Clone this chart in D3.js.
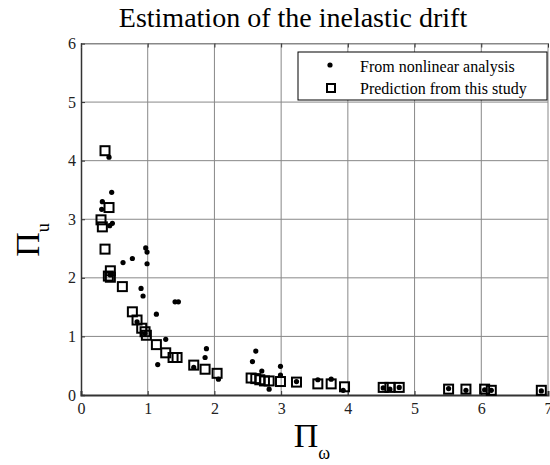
<!DOCTYPE html>
<html lang="en">
<head>
    <meta charset="UTF-8">
    <title>Estimation of the inelastic drift</title>
    <style>
        body {
            margin: 0;
            padding: 0;
            background-color: white;
        }
        svg {
            font-family: "Liberation Serif", "Times New Roman", serif;
        }
        .grid line {
            stroke: #888;
            stroke-width: 1;
        }
        .tick text {
            font-size: 16px;
            fill: #222;
        }
    </style>
    <script src="https://d3js.org/d3.v7.min.js"></script>
</head>
<body>
    <div id="chart"></div>

    <script>
        // Data
        const nonlinearX = [0.42, 0.46, 0.32, 0.31, 0.47, 0.43, 0.44, 0.63, 0.77, 0.97, 0.99, 0.99,
            0.90, 0.93, 0.84, 0.96, 1.13, 1.27, 1.15, 1.41, 1.46, 1.69, 1.86, 1.88, 2.06,
            2.57, 2.62, 2.71, 2.82, 2.99, 2.99, 3.23, 3.55, 3.75, 3.93, 4.53, 4.63, 4.77,
            5.51, 5.77, 6.05, 6.15, 6.90];
        const nonlinearY = [4.06, 3.46, 3.30, 3.17, 2.93, 2.89, 2.05, 2.26, 2.33, 2.51, 2.44, 2.24,
            1.82, 1.69, 1.25, 1.05, 1.38, 0.95, 0.52, 1.59, 1.59, 0.47, 0.64, 0.79, 0.27,
            0.57, 0.75, 0.41, 0.10, 0.49, 0.34, 0.23, 0.26, 0.27, 0.08, 0.12, 0.10, 0.13,
            0.11, 0.08, 0.09, 0.08, 0.07];

        const predX = [0.36, 0.42, 0.30, 0.32, 0.36, 0.44, 0.41, 0.44, 0.62, 0.77, 0.84, 0.91,
            0.96, 0.98, 1.13, 1.27, 1.38, 1.44, 1.69, 1.86, 2.04, 2.55, 2.62, 2.68, 2.75,
            2.82, 2.99, 3.23, 3.55, 3.75, 3.95, 4.53, 4.63, 4.77, 5.51, 5.77, 6.05, 6.15, 6.90];
        const predY = [4.17, 3.20, 2.99, 2.87, 2.49, 2.12, 2.03, 2.01, 1.85, 1.42, 1.28, 1.14,
            1.08, 1.02, 0.86, 0.72, 0.64, 0.64, 0.51, 0.44, 0.37, 0.29, 0.28, 0.26, 0.24,
            0.24, 0.23, 0.22, 0.19, 0.19, 0.14, 0.13, 0.13, 0.13, 0.10, 0.10, 0.10, 0.08, 0.08];

        const xTicks = [0, 1, 2, 3, 4, 5, 6, 7];
        const yTicks = [0, 1, 2, 3, 4, 5, 6];

        const width = 550, height = 465;
        const margin = {top: 43.5, right: 2, bottom: 70, left: 81};

        const svg = d3.select("#chart")
            .append("svg")
            .attr("width", width)
            .attr("height", height);

        const x = d3.scaleLinear().domain([0, 7]).range([margin.left, width - margin.right]);
        const y = d3.scaleLinear().domain([0, 6]).range([height - margin.bottom, margin.top]);

        // grid
        const grid = svg.append("g").attr("class", "grid");
        grid.selectAll(".vx").data(xTicks.slice(1)).enter().append("line")
            .attr("x1", d => x(d)).attr("x2", d => x(d))
            .attr("y1", y(0)).attr("y2", y(6));
        grid.selectAll(".hy").data(yTicks.slice(1)).enter().append("line")
            .attr("x1", x(0)).attr("x2", x(7))
            .attr("y1", d => y(d)).attr("y2", d => y(d));

        // axes
        svg.append("g")
            .attr("transform", `translate(0,${y(0)})`)
            .call(d3.axisBottom(x).tickValues(xTicks).tickFormat(d3.format("d")).tickSize(-4).tickPadding(8))
            .call(g => g.select(".domain").attr("stroke", "#333").attr("stroke-width", 2));
        svg.append("g")
            .attr("transform", `translate(${x(0)},0)`)
            .call(d3.axisLeft(y).tickValues(yTicks).tickFormat(d3.format("d")).tickSize(-4).tickPadding(5))
            .call(g => g.select(".domain").attr("stroke", "#333").attr("stroke-width", 1.5));
        svg.append("g")
            .attr("transform", `translate(0,${y(6)})`)
            .call(d3.axisTop(x).tickValues(xTicks).tickSize(-4).tickFormat(""))
            .call(g => g.select(".domain").attr("stroke", "#888"));

        svg.selectAll("g[font-family]").attr("font-family", null);
        svg.selectAll(".tick line").attr("stroke", "#333");

        // prediction squares
        const sq = 9;
        svg.append("g").selectAll("rect")
            .data(predX.map((d, i) => [d, predY[i]]))
            .enter().append("rect")
            .attr("x", d => x(d[0]) - sq / 2)
            .attr("y", d => y(d[1]) - sq / 2)
            .attr("width", sq).attr("height", sq)
            .attr("fill", "none")
            .attr("stroke", "black")
            .attr("stroke-width", 2);

        // nonlinear analysis dots
        svg.append("g").selectAll("circle")
            .data(nonlinearX.map((d, i) => [d, nonlinearY[i]]))
            .enter().append("circle")
            .attr("cx", d => x(d[0]))
            .attr("cy", d => y(d[1]))
            .attr("r", 2.6)
            .attr("fill", "black");

        // title
        svg.append("text")
            .attr("x", 293).attr("y", 27)
            .attr("text-anchor", "middle")
            .attr("font-size", 28)
            .text("Estimation of the inelastic drift");

        // x label
        const xl = svg.append("text")
            .attr("x", 312).attr("y", 447)
            .attr("text-anchor", "middle")
            .attr("font-size", 34);
        xl.append("tspan").text("\u03A0");
        xl.append("tspan").attr("font-size", 18).attr("dy", 12).text("\u03C9");

        // y label
        const yl = svg.append("text")
            .attr("transform", "translate(39,240) rotate(-90)")
            .attr("text-anchor", "middle")
            .attr("font-size", 34);
        yl.append("tspan").text("\u03A0");
        yl.append("tspan").attr("font-size", 18).attr("dy", 10).text("u");

        // legend
        const lg = svg.append("g");
        lg.append("rect")
            .attr("x", 298).attr("y", 52)
            .attr("width", 249).attr("height", 48)
            .attr("fill", "white")
            .attr("stroke", "black");
        lg.append("circle").attr("cx", 330).attr("cy", 65).attr("r", 2.6).attr("fill", "black");
        lg.append("rect").attr("x", 327).attr("y", 84).attr("width", 8).attr("height", 8)
            .attr("fill", "none").attr("stroke", "black").attr("stroke-width", 2);
        lg.append("text").attr("x", 360).attr("y", 72).attr("font-size", 16)
            .text("From nonlinear analysis");
        lg.append("text").attr("x", 360).attr("y", 94).attr("font-size", 16)
            .text("Prediction from this study");
    </script>
</body>
</html>
